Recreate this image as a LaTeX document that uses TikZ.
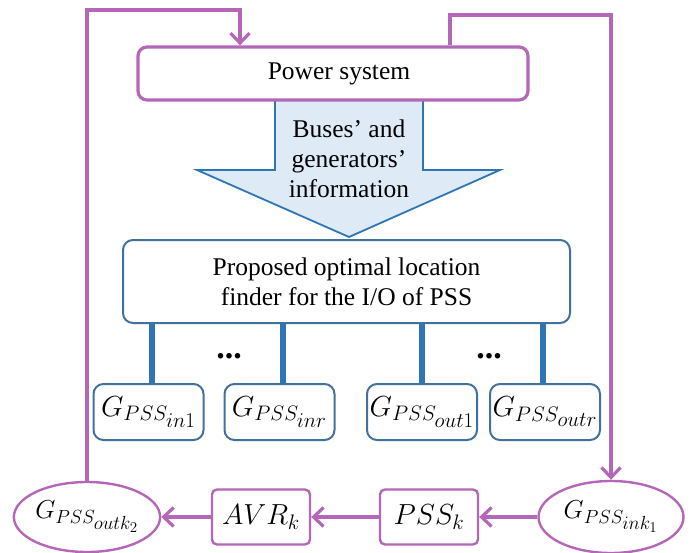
\RequirePackage{fix-cm}
\documentclass[tikz,border=0pt]{standalone}
\usepackage{fontspec}
\setmainfont{Liberation Serif}
\usetikzlibrary{arrows.meta,shapes.geometric}
\definecolor{pur}{HTML}{B466B8}
\definecolor{bdr}{HTML}{41719C}
\definecolor{bln}{HTML}{2E75B6}
\definecolor{afill}{HTML}{DEEBF7}
\DeclareMathSizes{29}{29}{21}{17}
\DeclareMathSizes{26}{26}{19}{15}
\begin{document}
\begin{tikzpicture}[x=1pt,y=-1pt,
  bigfont/.style={font=\fontsize{25.5}{30}\selectfont},
  mfont/.style={font=\fontsize{29}{32}\selectfont},
  efont/.style={font=\fontsize{26}{30}\selectfont},
  pbox/.style={draw=pur, line width=3.2pt, rounded corners=9pt, fill=white, inner sep=0pt},
  prect/.style={draw=pur, line width=2.4pt, rounded corners=5pt, minimum width=98pt, minimum height=55pt, inner sep=0pt, mfont},
  bbox/.style={draw=bdr, line width=2pt, rounded corners=10pt, fill=white, inner sep=0pt},
  sbox/.style={bbox, minimum width=110pt, minimum height=56pt, mfont},
  pell/.style={draw=pur, line width=2.4pt, ellipse, minimum width=145pt, minimum height=70pt, inner sep=0pt, efont},
  parrow/.style={draw=pur, line width=3.2pt, -{Straight Barb[length=10pt,width=19pt]}},
  bline/.style={draw=bln, line width=6.5pt}]
\useasboundingbox (0,0) rectangle (700,553);

% big information arrow
\draw[draw=bln, fill=afill, line width=1.8pt]
  (275,95) -- (275,170) -- (197,170) -- (349,237) -- (500,170) -- (423,170) -- (423,95);

% power system
\node[pbox, minimum width=390pt, minimum height=53pt, bigfont] (ps) at (333,73.5) {\hspace*{12pt}Power system};

\node[align=center, bigfont] (info) at (349,159) {Buses’ and\\generators’\\information};

% finder
\node[bbox, minimum width=447pt, minimum height=83pt, align=center, bigfont] (finder) at (346.5,281.5)
  {Proposed optimal location\\finder for the I/O of PSS};

% small boxes
\node[sbox] (b1) at (148.5,412) {$G_{PSS_{\scriptstyle in1}}$};
\node[sbox] (b2) at (279.5,412) {$G_{PSS_{\scriptstyle inr}}$};
\node[sbox] (b3) at (422,412) {$G_{PSS_{\scriptstyle out1}}$};
\node[sbox] (b4) at (545,412) {$G_{PSS_{\scriptstyle outr}}$};

\foreach \b/\x in {b1/152,b2/283,b3/422,b4/543}{
  \coordinate (\b c) at (\x,0);
  \draw[bline] (\b c |- \b.north) -- (\b c |- finder.south);
}

\node[font=\fontsize{34}{34}\selectfont\bfseries] (d1) at (229,356) {...};
\node[font=\fontsize{34}{34}\selectfont\bfseries] (d2) at (489,356) {...};

% bottom chain
\node[pell] (gout) at (87,517) {$G_{PSS_{\scriptstyle outk_2}}$};
\node[prect] (avr) at (261,517) {$AVR_k$};
\node[prect] (pssk) at (429,517) {$PSS_k$};
\node[pell, minimum height=72pt] (gin) at (611,517) {$G_{PSS_{\scriptstyle ink_1}}$};

\draw[parrow] (gin) -- (pssk);
\draw[parrow] (pssk) -- (avr);
\draw[parrow] (avr) -- (gout);

% feedback loops
\coordinate (c1) at (240,10);
\draw[parrow] (gout.north) |- (c1) -- (c1 |- ps.north);
\coordinate (c3) at (450,47);
\coordinate (c2) at (611,15);
\draw[parrow] (c3 |- ps.north) |- (c2) -- (gin.north);
\end{tikzpicture}
\end{document}
